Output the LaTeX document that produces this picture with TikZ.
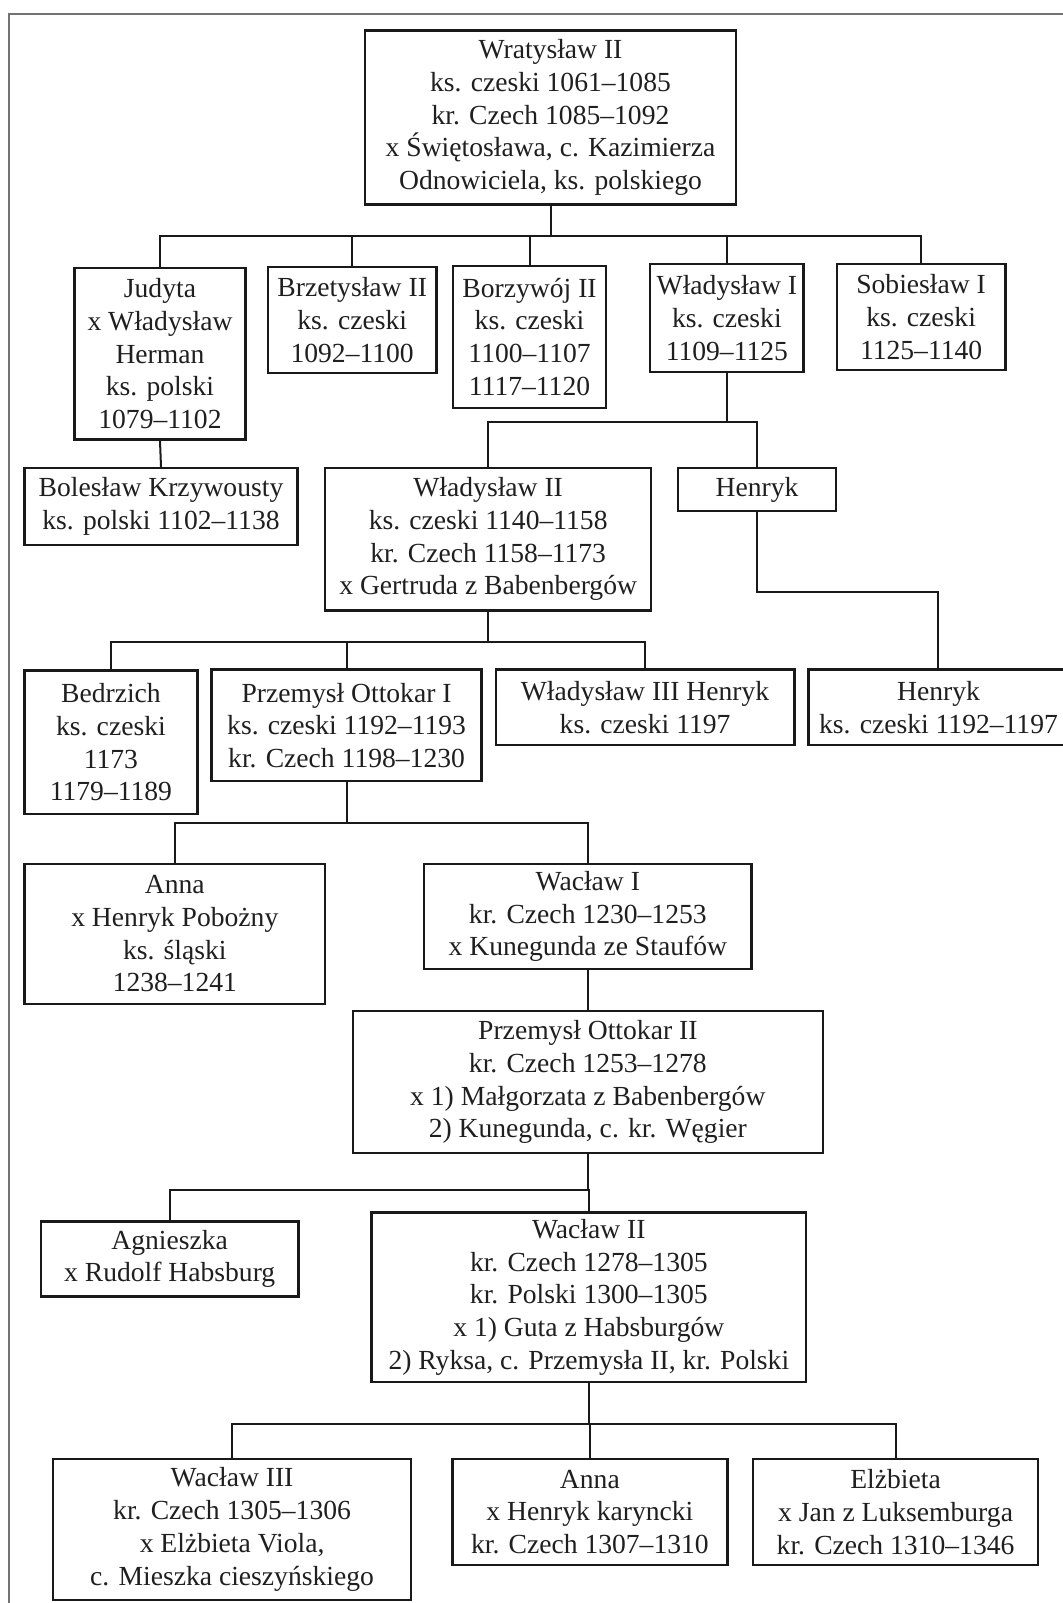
\documentclass[tikz,border=0pt]{standalone}
\usepackage{fontspec}
\setmainfont{Liberation Serif}
\begin{document}
\begin{tikzpicture}[x=0.511pt, y=-0.511pt,
  person/.style 2 args={draw=black!90, line width=1.2pt, fill=white, align=center, inner sep=0pt,
    minimum width=#1*0.511pt, minimum height=#2*0.511pt,
    font=\fontsize{13.8}{16.35}\selectfont, text=black!88},
  link/.style={draw=black!90, line width=1pt},
  framec/.style={draw=black!55, line width=1pt}]
\useasboundingbox (0,0) rectangle (1039,1568);
\fill[white] (0,0) rectangle (1039,1568);
\draw[framec] (9,1590) -- (9,14) -- (1060,14);

% row 1
\node[person={363}{170}] (wrat) at (538.5,115) {Wratysław II\\ks. czeski 1061–1085\\kr. Czech 1085–1092\\x Świętosława, c. Kazimierza\\Odnowiciela, ks. polskiego};
% row 2
\node[person={167}{168}] (jud) at (156.5,346) {Judyta\\x Władysław\\Herman\\ks. polski\\1079–1102};
\node[person={165}{104}] (brz) at (344.5,313) {Brzetysław II\\ks. czeski\\1092–1100};
\node[person={150}{139}] (bor) at (518,329.5) {Borzywój II\\ks. czeski\\1100–1107\\1117–1120};
\node[person={150}{106}] (wl1) at (711,311) {Władysław I\\ks. czeski\\1109–1125};
\node[person={165}{104}] (sob) at (901,310) {Sobiesław I\\ks. czeski\\1125–1140};
% row 3
\node[person={267}{75}] (bol) at (157.5,495.5) {Bolesław Krzywousty\\ks. polski 1102–1138};
\node[person={319}{139}] (wl2) at (477.5,527.5) {Władysław II\\ks. czeski 1140–1158\\kr. Czech 1158–1173\\x Gertruda z Babenbergów};
\node[person={155}{42}] (hen1) at (740.5,479) {Henryk};
% row 4
\node[person={169}{140}] (bed) at (108.5,726) {Bedrzich\\ks. czeski\\1173\\1179–1189};
\node[person={264}{109}] (prz1) at (339,709.5) {Przemysł Ottokar I\\ks. czeski 1192–1193\\kr. Czech 1198–1230};
\node[person={292}{74}] (wl3) at (631,692) {Władysław III Henryk\\ks. czeski 1197};
\node[person={254}{74}] (hen2) at (918,692) {Henryk\\ks. czeski 1192–1197};
% row 5
\node[person={294}{137}] (anna1) at (171,913.5) {Anna\\x Henryk Pobożny\\ks. śląski\\1238–1241};
\node[person={320}{103}] (wac1) at (575,896.5) {Wacław I\\kr. Czech 1230–1253\\x Kunegunda ze Staufów};
% row 6
\node[person={460}{139}] (prz2) at (575,1058.5) {Przemysł Ottokar II\\kr. Czech 1253–1278\\x 1) Małgorzata z Babenbergów\\2) Kunegunda, c. kr. Węgier};
% row 7
\node[person={252}{73}] (agn) at (166,1231.5) {Agnieszka\\x Rudolf Habsburg};
\node[person={425}{166}] (wac2) at (576,1269) {Wacław II\\kr. Czech 1278–1305\\kr. Polski 1300–1305\\x 1) Guta z Habsburgów\\2) Ryksa, c. Przemysła II, kr. Polski};
% row 8
\node[person={350}{138}] (wac3) at (227,1496) {Wacław III\\kr. Czech 1305–1306\\x Elżbieta Viola,\\c. Mieszka cieszyńskiego};
\node[person={269}{104}] (anna2) at (577,1479) {Anna\\x Henryk karyncki\\kr. Czech 1307–1310};
\node[person={279}{104}] (elz) at (876,1479) {Elżbieta\\x Jan z Luksemburga\\kr. Czech 1310–1346};

% connectors
\foreach \c in {jud,brz,bor,wl1,sob} \draw[link] (wrat.south) -- ++(0,30) -| (\c.north);
\draw[link] (jud.south) -- (bol.north);
\foreach \c in {wl2,hen1} \draw[link] (wl1.south) -- ++(0,48) -| (\c.north);
\draw[link] (hen1.south) -- ++(0,78) -| (hen2.north);
\foreach \c in {bed,prz1,wl3} \draw[link] (wl2.south) -- ++(0,30) -| (\c.north);
\foreach \c in {anna1,wac1} \draw[link] (prz1.south) -- ++(0,40) -| (\c.north);
\draw[link] (wac1.south) -- (prz2.north);
\foreach \c in {agn,wac2} \draw[link] (prz2.south) -- ++(0,35) -| (\c.north);
\foreach \c in {wac3,anna2,elz} \draw[link] (wac2.south) -- ++(0,40) -| (\c.north);
\end{tikzpicture}
\end{document}
